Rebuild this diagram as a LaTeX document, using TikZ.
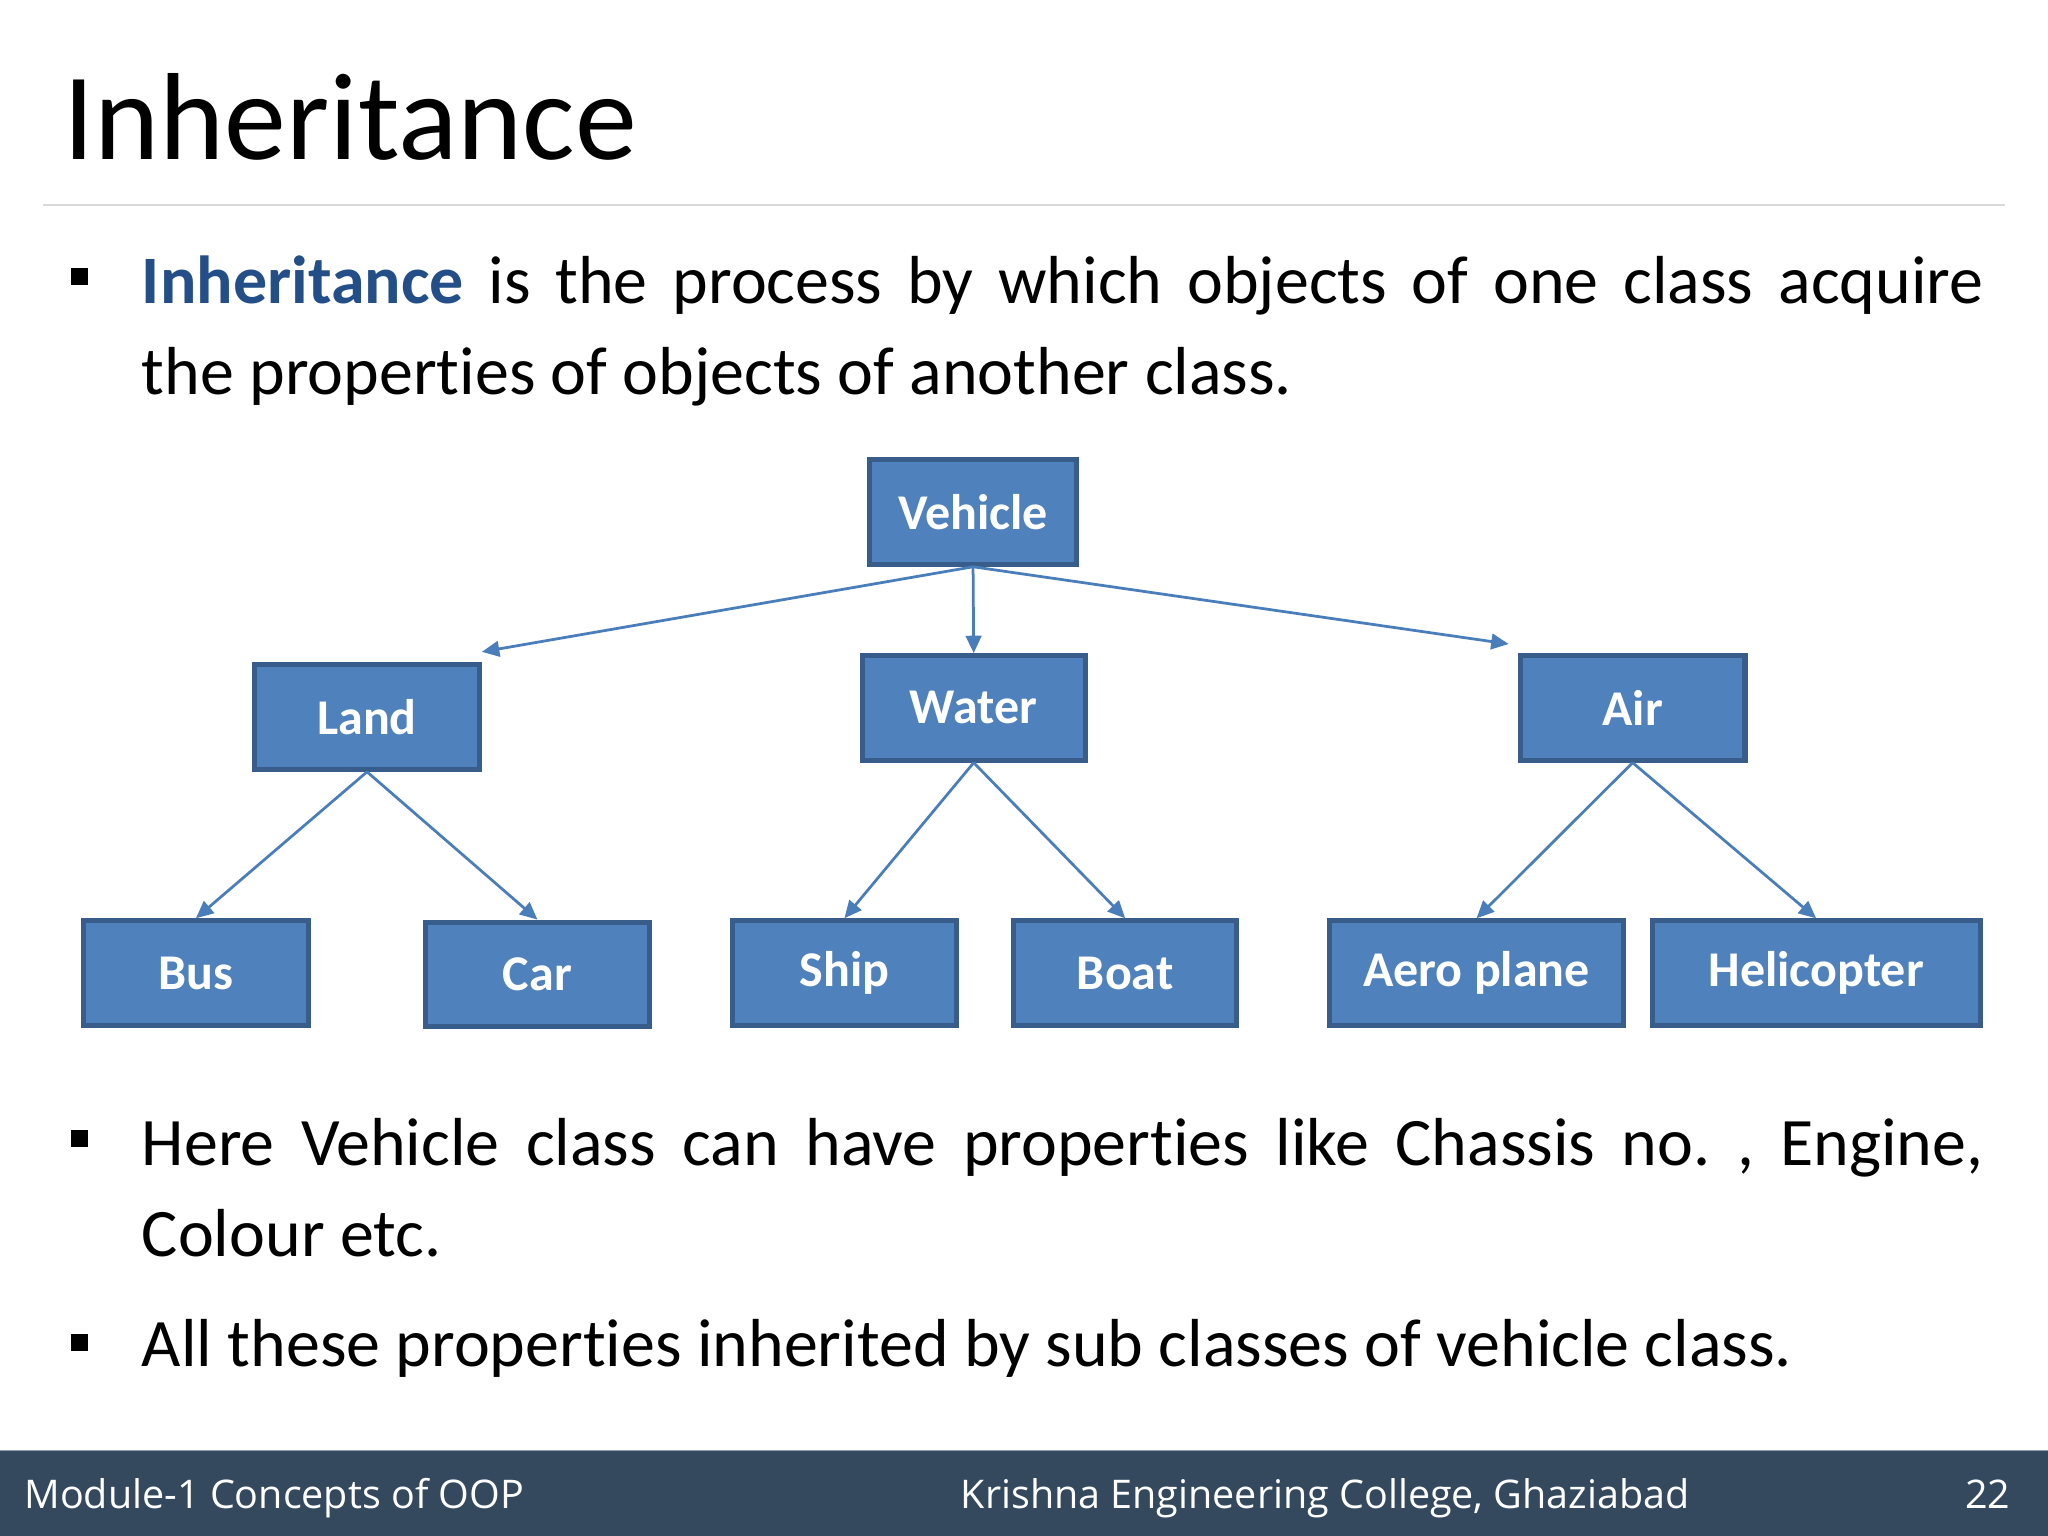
\documentclass[tikz,border=0pt]{standalone}
\usepackage{fontspec}
\setmainfont{Carlito}[Ligatures={NoCommon,NoContextual,NoRare}]
\newfontfamily\footfont{Open Sans}
\usetikzlibrary{arrows.meta}
\definecolor{boxfill}{RGB}{79,129,189}
\definecolor{boxline}{RGB}{56,93,138}
\definecolor{arrowc}{RGB}{74,126,187}
\definecolor{hlblue}{RGB}{35,78,135}
\definecolor{footbg}{RGB}{52,73,94}
\definecolor{footline}{RGB}{140,155,175}
\definecolor{sepgray}{RGB}{217,217,217}
\frenchspacing
\begin{document}
\begin{tikzpicture}[x=0.1mm,y=-0.1mm,
  cls/.style={draw=boxline, fill=boxfill, line width=1.1pt, text=white,
    font=\fontsize{10.9}{13}\selectfont\bfseries, minimum height=8mm, inner sep=0pt},
  inh/.style={draw=arrowc, line width=0.6pt, -{Triangle[length=3.8pt,width=3.4pt]}},
  bodytxt/.style={anchor=base west, inner sep=0pt, font=\fontsize{14.8}{18}\selectfont},
  bulletsq/.style={fill=black, minimum size=1.3mm, inner sep=0pt},
  foot/.style={inner sep=0pt, text=white, font=\footfont\fontsize{8.6}{10}\selectfont}]
\useasboundingbox (0,0) rectangle (1568,1176);
\fill[white] (0,0) rectangle (1568,1176);
% title
\node[anchor=base west, inner sep=0pt, font=\fontsize{27}{32}\selectfont] (title) at (48,122) {Inheritance};
\draw[sepgray, line width=0.45pt] (33,157) -- (1535,157);
% first bullet
\node[bulletsq] (b1) at (61,212) {};
\node[bodytxt] (l1) at (108,232) {\makebox[141mm][s]{\textcolor{hlblue}{\bfseries Inheritance} is the process by which objects of one class acquire}};
\node[bodytxt] (l2) at (108,302) {the properties of objects of another class.};
% diagram
\node[cls, minimum width=15.8mm] (veh) at (745,392) {Vehicle};
\node[cls, minimum width=17.2mm] (land) at (281,549) {Land};
\node[cls, minimum width=17.1mm] (water) at (745.5,542) {Water};
\node[cls, minimum width=17.2mm] (air) at (1250,542) {Air};
\node[cls, minimum width=17.2mm] (bus) at (150,745) {Bus};
\node[cls, minimum width=17.1mm] (car) at (411.5,746) {Car};
\node[cls, minimum width=17.1mm] (ship) at (646.5,745) {Ship};
\node[cls, minimum width=17.1mm] (boat) at (861.5,745) {Boat};
\node[cls, minimum width=22.5mm] (aero) at (1130.5,745) {Aero plane};
\node[cls, minimum width=25.1mm] (heli) at (1390.5,745) {Helicopter};
\draw[inh] (veh.south) -- ([yshift=0.8mm]land.north east);
\draw[inh] (veh.south) -- (water.north);
\draw[inh] (veh.south) -- ([xshift=-0.7mm,yshift=0.7mm]air.north west);
\draw[inh] (land.south) -- (bus.north);
\draw[inh] (land.south) -- (car.north);
\draw[inh] (water.south) -- (ship.north);
\draw[inh] (water.south) -- (boat.north);
\draw[inh] (air.south) -- (aero.north);
\draw[inh] (air.south) -- (heli.north);
% lower bullets
\node[bulletsq] (b2) at (61,872) {};
\node[bodytxt] (l3) at (108,892) {\makebox[141mm][s]{Here Vehicle class can have properties like Chassis no. , Engine,}};
\node[bodytxt] (l4) at (108,962) {Colour etc.};
\node[bulletsq] (b3) at (61,1028) {};
\node[bodytxt] (l5) at (108,1046) {All these properties inherited by sub classes of vehicle class.};
% footer
\fill[footbg] (0,1110) rectangle (1568,1176);
\draw[footline, line width=0.4pt] (0,1110.5) -- (1568,1110.5);
\node[foot, anchor=base west] (f1) at (18,1155) {Module-1 Concepts of OOP};
\node[foot, anchor=base west] (f2) at (735,1155) {Krishna Engineering College, Ghaziabad};
\node[foot, anchor=base east] (f3) at (1540,1155) {22};
\end{tikzpicture}
\end{document}
